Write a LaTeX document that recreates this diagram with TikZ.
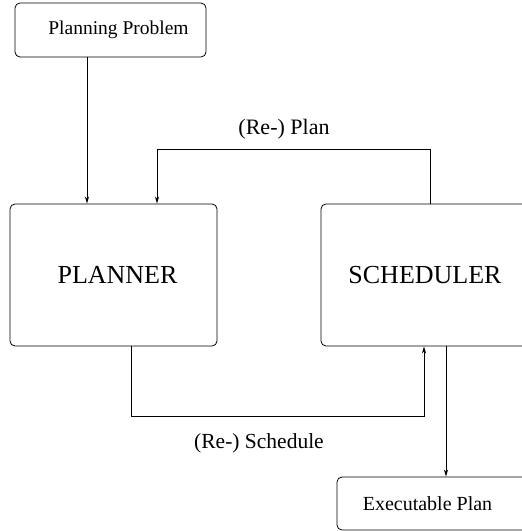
\documentclass[tikz,border=0pt]{standalone}
\usepackage{fontspec}
\setmainfont{Liberation Serif}
\usetikzlibrary{arrows.meta}
\begin{document}
\begin{tikzpicture}[x=1pt,y=-1pt,
  box/.style={draw, line width=0.8pt, rounded corners=5pt, inner sep=0pt, align=center},
  flow/.style={line width=0.8pt, -{Stealth[length=7pt,width=4pt,inset=2pt]}}]
  \useasboundingbox (0,0) rectangle (522,531);
  \begin{scope}
  \clip (0,0) rectangle (522,531);

  % blocks (the two on the right run past the page edge)
  \node[box, minimum width=191, minimum height=54, font=\fontsize{19.5}{22}\selectfont]
    (pp) at (110.5,30) {\hspace*{16pt}Planning Problem};
  \node[box, minimum width=207, minimum height=142, font=\fontsize{26}{30}\selectfont]
    (planner) at (113.5,275) {\hspace*{8pt}PLANNER};
  \node[box, minimum width=300, minimum height=142, font=\fontsize{26}{30}\selectfont]
    (sched) at (471,275) {\hspace*{-92pt}SCHEDULER};
  \node[box, minimum width=300, minimum height=53, font=\fontsize{20}{23}\selectfont]
    (exec) at (487,503.5) {\hspace*{-119pt}\raisebox{-5.5pt}{Executable Plan}};

  % labels
  \node[font=\fontsize{22}{25}\selectfont] (lplan) at (284,129) {(Re-) Plan};
  \node[font=\fontsize{21.5}{25}\selectfont] (lsched) at (259,443) {(Re-) Schedule};

  % connectors
  \draw[flow] ([xshift=-23.5]pp.south) -- ([xshift=-26.5]planner.north);
  \draw[flow] ([xshift=-41]sched.north) -- ++(0,-54) -| ([xshift=43.5]planner.north);
  \draw[flow] ([xshift=17.5]planner.south) -- ++(0,70) -| ([xshift=-47]sched.south);
  \draw[flow] ([xshift=-25]sched.south) -- ([xshift=-41]exec.north);
  \end{scope}
\end{tikzpicture}
\end{document}
